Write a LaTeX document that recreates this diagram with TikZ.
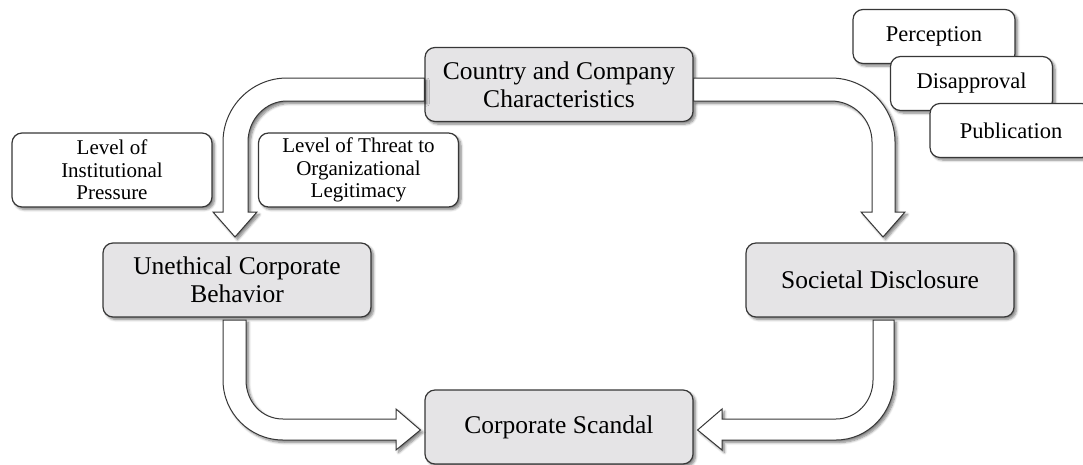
\documentclass[tikz,border=0pt]{standalone}
\usepackage{fontspec}
\setmainfont{Liberation Serif}
\usetikzlibrary{shadows.blur,calc}
\definecolor{boxgray}{RGB}{229,228,230}
\definecolor{edgegray}{RGB}{55,55,55}
\tikzset{
  shd/.style={blur shadow={shadow xshift=2.5pt,shadow yshift=-2.5pt,shadow blur radius=2.5pt,shadow blur steps=6,shadow opacity=50}},
  mainbox/.style={draw=edgegray,line width=1.2pt,fill=boxgray,rounded corners=10pt,shd,
    minimum width=268pt,minimum height=74pt,inner sep=0pt,align=center,
    font=\fontsize{25.5}{28}\selectfont},
  labelbox/.style={draw=edgegray,line width=1.2pt,fill=white,rounded corners=10pt,shd,
    minimum width=200pt,minimum height=74pt,inner sep=0pt,align=center,
    font=\fontsize{21}{22.5}\selectfont},
  tagbox/.style={draw=edgegray,line width=1.2pt,fill=white,rounded corners=10pt,shd,
    minimum width=162pt,minimum height=54pt,inner sep=0pt,align=center,
    font=\fontsize{22.5}{24}\selectfont},
  blockarrow/.style={draw=edgegray,line width=1pt,fill=white,line join=miter,shd},
}
\begin{document}
\begin{tikzpicture}[x=1pt,y=-1pt]
\useasboundingbox (0,0) rectangle (1083,464);
% main nodes
\node[mainbox] (cc) at (559,84.5) {Country and Company\\Characteristics};
\node[mainbox] (ucb) at (237,280) {Unethical Corporate\\Behavior};
\node[mainbox] (sd) at (880,280) {Societal Disclosure};
\node[mainbox] (cs) at (559,427) {Corporate Scandal};
% label nodes
\node[labelbox] (lip) at (112,170) {Level of\\Institutional\\Pressure};
\node[labelbox] (ltol) at (358.5,170) {Level of Threat to\\Organizational\\Legitimacy};
% stacked tags
\node[tagbox] (per) at (934,36.5) {Perception};
\node[tagbox] (dis) at (971.5,83.5) {Disapproval};
\node[tagbox] (pub) at (1011,130.5) {Publication};
% block arrows
% cc -> ucb
\draw[blockarrow] (cc.west |- 0,78) -- (287,78)
  .. controls (251.7,78) and (223,106.7) .. (223,142) -- (223,212) -- (213,212)
  -- (235,237) -- (257,212) -- (248,212) -- (248,142)
  .. controls (248,119.4) and (265.5,101) .. (287,101) -- (cc.west |- 0,101) -- cycle;
% cc -> sd
\draw[blockarrow] (cc.east |- 0,78) -- (831,78)
  .. controls (866.3,78) and (895,106.7) .. (895,142) -- (895,212) -- (905,212)
  -- (883,237) -- (861,212) -- (872,212) -- (872,142)
  .. controls (872,119.4) and (853.6,101) .. (831,101) -- (cc.east |- 0,101) -- cycle;
% ucb -> cs
\draw[blockarrow] (223,320) -- (223,380)
  .. controls (223,413.1) and (249.9,440) .. (283,440) -- (396,440) -- (396,450)
  -- ($(cs.west |- 0,430)+(-4,0)$) -- (396,409) -- (396,419) -- (283,419)
  .. controls (261.5,419) and (246,401.5) .. (246,380) -- (246,320) -- cycle;
% sd -> cs
\draw[blockarrow] (894,320) -- (894,380)
  .. controls (894,413.1) and (868,440) .. (836,440) -- (722,440) -- (722,450)
  -- ($(cs.east |- 0,430)+(4,0)$) -- (722,409) -- (722,419) -- (836,419)
  .. controls (856.4,419) and (873,401.5) .. (873,380) -- (873,320) -- cycle;
\end{tikzpicture}
\end{document}
